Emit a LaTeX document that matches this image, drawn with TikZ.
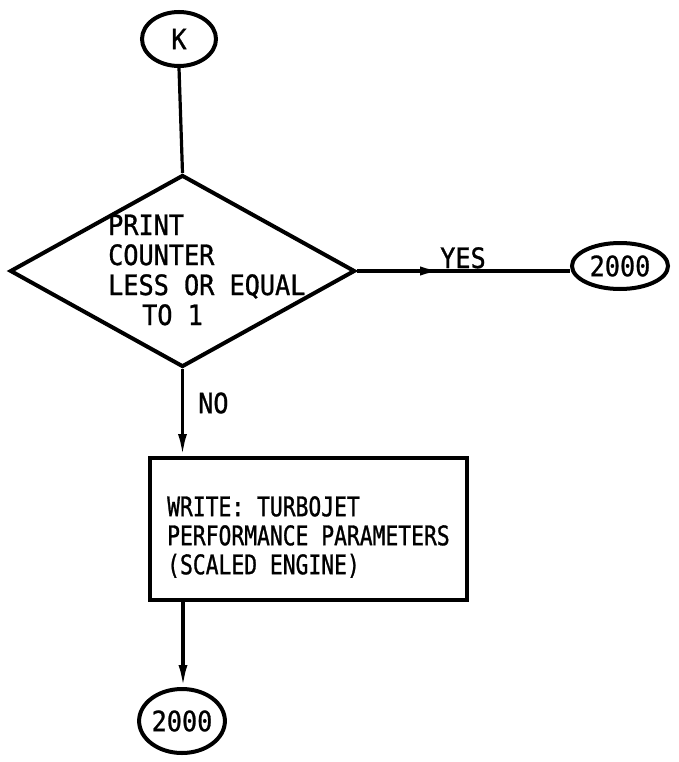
\documentclass[tikz,border=0pt]{standalone}
\usepackage{fontspec}
\newfontfamily\mono[FakeBold=1,FakeStretch=0.9]{DejaVu Sans Mono}
\newfontfamily\mononarrow[FakeBold=1,FakeStretch=0.79]{DejaVu Sans Mono}
\usetikzlibrary{shapes.geometric,arrows.meta,decorations.markings}
\begin{document}
\begin{tikzpicture}[x=1pt,y=-1pt,
  lw/.style={line width=4pt},
  conn/.style={line width=3.2pt},
  oval/.style={ellipse,draw,lw,inner sep=0pt,font=\mono\fontsize{28}{30}\selectfont},
  lbl/.style={inner sep=0pt,font=\mono\fontsize{28}{30}\selectfont},
  tip/.style={-{Latex[length=22pt,width=9pt]}},
  midtip/.style={postaction={decorate},decoration={markings,
     mark=at position #1 with {\arrow{Latex[length=22pt,width=9pt]}}}}]
\useasboundingbox (0,0) rectangle (678,762);
\node[oval,minimum width=74pt,minimum height=54pt] (k) at (179,39) {K};
\node[diamond,draw,lw,inner sep=0pt,minimum width=345pt,minimum height=192pt] (dia) at (182.5,271) {};
\node[lbl,anchor=west,align=left] (diatext) at (108,270) {PRINT\\COUNTER\\LESS OR EQUAL\\\hspace*{34pt}TO 1};
\node[oval,minimum width=96pt,minimum height=46pt] (e1) at (620,266) {2000};
\node[draw,lw,minimum width=317pt,minimum height=142pt,inner sep=0pt] (box) at (308.5,529) {};
\node[lbl,anchor=west,align=left,font=\mononarrow\fontsize{27}{29}\selectfont] (boxtext) at (167,537) {WRITE: TURBOJET\\PERFORMANCE PARAMETERS\\(SCALED ENGINE)};
\node[oval,minimum width=76pt,minimum height=64pt] (e2) at (182,721) {2000};
\node[lbl,anchor=base] (yes) at (463,268) {YES};
\node[lbl,anchor=west] (no) at (198,403) {NO};
\draw[conn] (k.south) -- (dia.north);
\draw[conn,midtip=0.40] (dia.east) -- (dia.east -| e1.west);
\draw[conn,tip] (dia.south) -- (dia.south |- box.north);
\coordinate (bx) at (183,600);
\draw[conn,tip] (bx) -- (bx |- e2.north);
\end{tikzpicture}
\end{document}
